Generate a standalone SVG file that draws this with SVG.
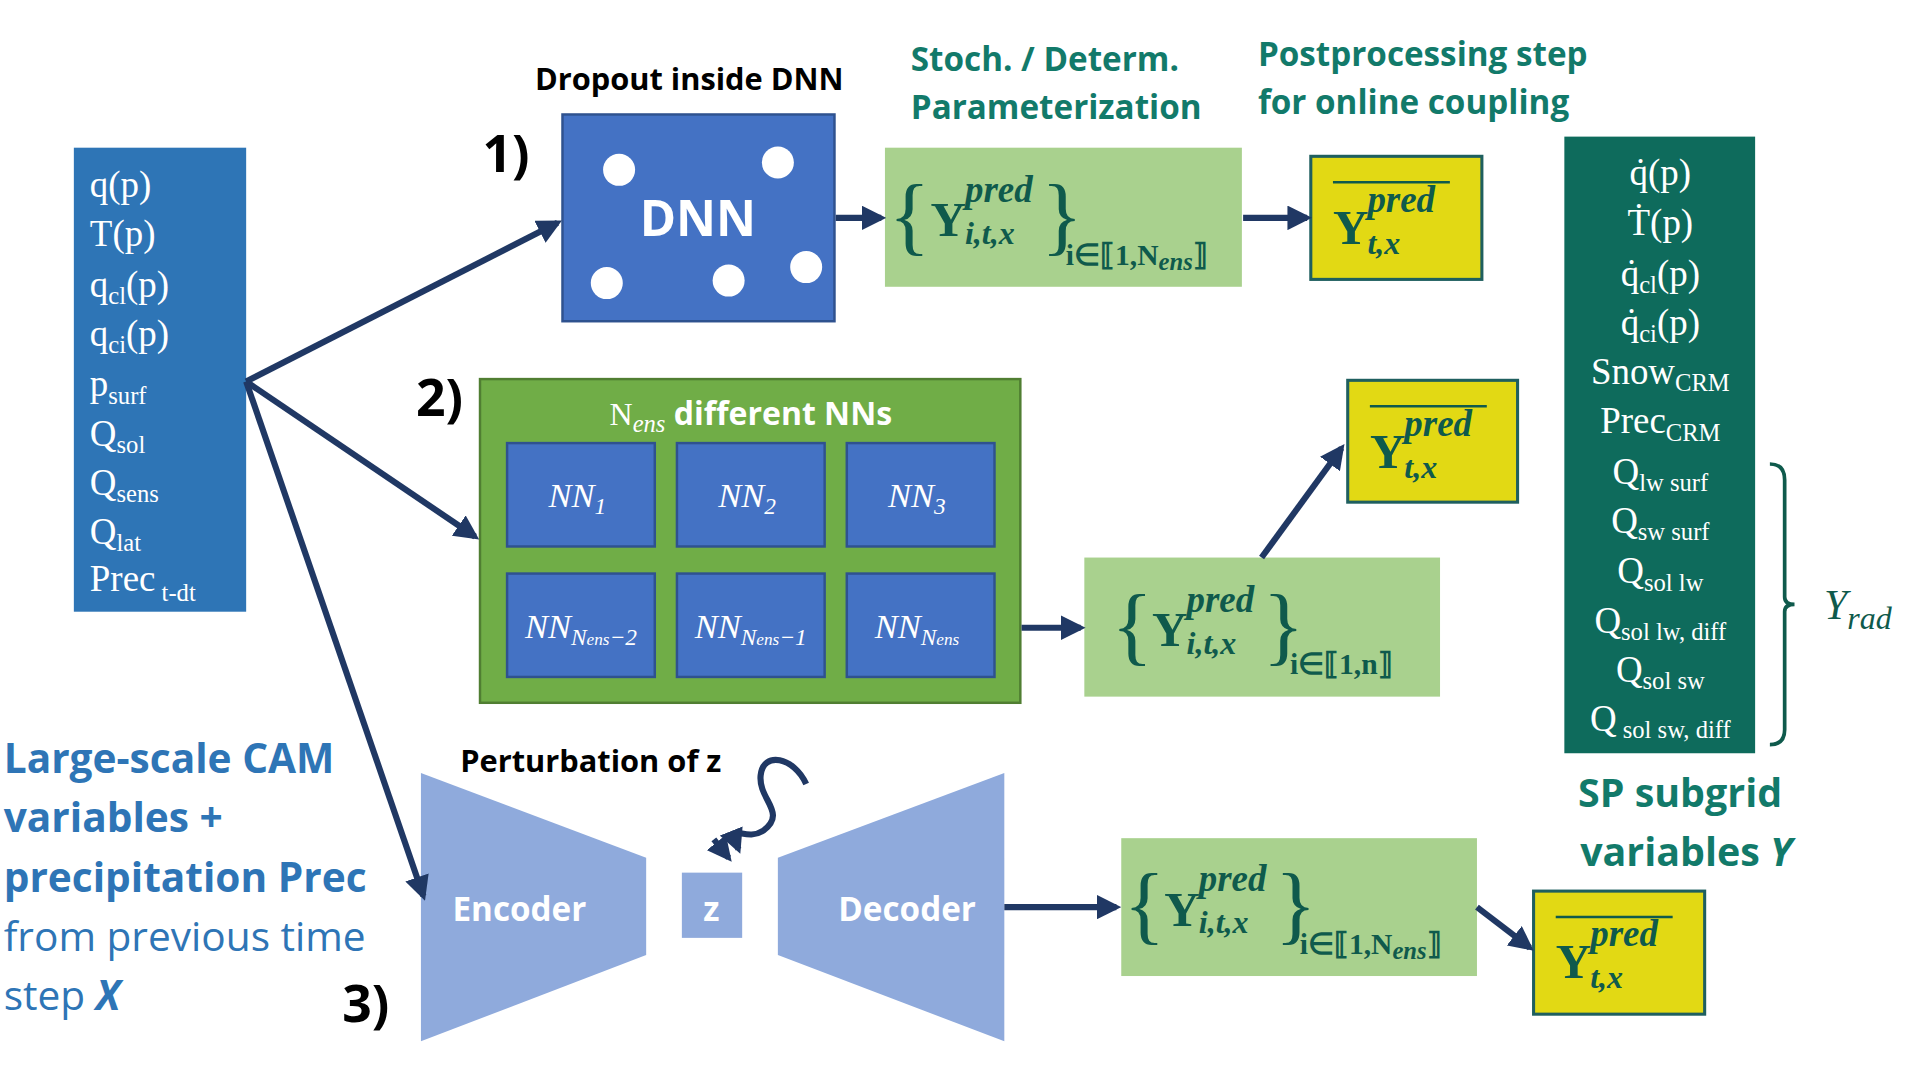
<svg xmlns="http://www.w3.org/2000/svg" width="1920" height="1080" viewBox="0 0 1920 1080">
<defs>
<marker id="ah" viewBox="0 0 10 10" refX="8" refY="5" markerWidth="4" markerHeight="4" orient="auto"><path d="M0,0L10,5L0,10z" fill="#203864"/></marker>
<style>
.sans{font-family:"Open Sans","Liberation Sans",sans-serif}
.ser{font-family:"Liberation Serif",serif}
.teal{fill:#127A6A}
.w{fill:#fff}
.blue{fill:#4472C4;stroke:#2F528F;stroke-width:2}
.lg{fill:#A9D18E}
.yl{fill:#E2D914;stroke:#1F5F5F;stroke-width:2.5}
.con{stroke:#203864;stroke-width:5;fill:none;marker-end:url(#ah)}
.f{font-family:"Liberation Serif",serif;fill:#0F5A4C}
.Y{font-size:40px;font-weight:bold}
.p{font-size:30px;font-weight:bold;font-style:italic}
.s{font-size:26px;font-weight:bold;font-style:italic}
.br{font-size:70px}
</style>
</defs>
<rect width="1920" height="1080" fill="#fff"/>
<g transform="scale(1.2308)">
<g id="inputs">
<rect x="60" y="120" width="140" height="377" fill="#2E75B6"/>
<g class="ser w" font-size="30">
<text x="73" y="160">q(p)</text>
<text x="73" y="200">T(p)</text>
<text x="73" y="241">q<tspan font-size="20" dy="6">cl</tspan><tspan dy="-6">(p)</tspan></text>
<text x="73" y="281">q<tspan font-size="20" dy="6">ci</tspan><tspan dy="-6">(p)</tspan></text>
<text x="73" y="322">p<tspan font-size="20" dy="6">surf</tspan></text>
<text x="73" y="362">Q<tspan font-size="20" dy="6">sol</tspan></text>
<text x="73" y="402">Q<tspan font-size="20" dy="6">sens</tspan></text>
<text x="73" y="442">Q<tspan font-size="20" dy="6">lat</tspan></text>
<text x="73" y="480">Prec<tspan font-size="20" dy="8"> t-dt</tspan></text>
</g>
</g>
<g id="leftlabel" class="sans" font-size="33" fill="#2E75B6">
<text x="3" y="628" font-weight="bold">Large-scale CAM</text>
<text x="3" y="676" font-weight="bold">variables +</text>
<text x="3" y="725" font-weight="bold">precipitation Prec</text>
<text x="3" y="773">from previous time</text>
<text x="3" y="821">step <tspan font-weight="bold" font-style="italic">X</tspan></text>
</g>
<g id="dnn">
<text x="560" y="73" class="sans" font-size="25" font-weight="bold" text-anchor="middle">Dropout inside DNN</text>
<text x="392" y="140" class="sans" font-size="42" font-weight="bold">1)</text>
<rect x="457" y="93" width="221" height="168" class="blue"/>
<g class="w"><circle cx="503" cy="138" r="13"/><circle cx="632" cy="132" r="13"/><circle cx="493" cy="230" r="13"/><circle cx="592" cy="228" r="13"/><circle cx="655" cy="217" r="13"/></g>
<text x="567" y="192" class="sans w" font-size="40" font-weight="bold" text-anchor="middle">DNN</text>
</g>
<g id="head" class="sans teal" font-size="27" font-weight="bold">
<text x="740" y="58">Stoch. / Determ.</text>
<text x="740" y="97">Parameterization</text>
<text x="1022" y="54">Postprocessing step</text>
<text x="1022" y="93">for online coupling</text>
</g>
<g id="ens1" class="f">
<rect x="719" y="120" width="290" height="113" class="lg"/>
<text x="722" y="198" class="br">{</text>
<text x="756" y="192" class="Y">Y</text>
<text x="784" y="164" class="p">pred</text>
<text x="784" y="198" class="s">i,t,x</text>
<text x="846" y="198" class="br">}</text>
<text x="866" y="215" font-size="24" font-weight="bold">i∈⟦1,N<tspan font-style="italic" font-size="20" dy="4">ens</tspan><tspan dy="-4">⟧</tspan></text>
</g>
<g id="y1" class="f">
<rect x="1065" y="127" width="139" height="100" class="yl"/>
<line x1="1083" y1="148" x2="1178" y2="148" stroke="#0F5A4C" stroke-width="2"/>
<text x="1083" y="198" class="Y">Y</text>
<text x="1111" y="172" class="p">pred</text>
<text x="1111" y="206" class="s">t,x</text>
</g>
<g id="ens2box">
<text x="338" y="338" class="sans" font-size="42" font-weight="bold">2)</text>
<rect x="390" y="308" width="439" height="263" fill="#70AD47" stroke="#507E32" stroke-width="2"/>
<text x="610" y="345" class="sans w" font-size="26" font-weight="bold" text-anchor="middle"><tspan class="ser" font-weight="normal">N</tspan><tspan class="ser" font-style="italic" font-weight="normal" font-size="20" dy="6">ens</tspan><tspan dy="-6"> different NNs</tspan></text>
<rect x="412" y="360" width="120" height="84" class="blue"/>
<rect x="550" y="360" width="120" height="84" class="blue"/>
<rect x="688" y="360" width="120" height="84" class="blue"/>
<rect x="412" y="466" width="120" height="84" class="blue"/>
<rect x="550" y="466" width="120" height="84" class="blue"/>
<rect x="688" y="466" width="120" height="84" class="blue"/>
<g class="ser w" font-style="italic" font-size="28" text-anchor="middle">
<text x="469" y="412">NN<tspan font-size="19" dy="6">1</tspan></text>
<text x="607" y="412">NN<tspan font-size="19" dy="6">2</tspan></text>
<text x="745" y="412">NN<tspan font-size="19" dy="6">3</tspan></text>
<text x="472" y="518">NN<tspan font-size="19" dy="6">N<tspan font-size="14">ens</tspan>−2</tspan></text>
<text x="610" y="518">NN<tspan font-size="19" dy="6">N<tspan font-size="14">ens</tspan>−1</tspan></text>
<text x="745" y="518">NN<tspan font-size="19" dy="6">N<tspan font-size="14">ens</tspan></tspan></text>
</g>
</g>
<g id="ens2" class="f">
<rect x="881" y="453" width="289" height="113" class="lg"/>
<text x="903" y="531" class="br">{</text>
<text x="936" y="525" class="Y">Y</text>
<text x="964" y="497" class="p">pred</text>
<text x="964" y="531" class="s">i,t,x</text>
<text x="1026" y="531" class="br">}</text>
<text x="1048" y="548" font-size="24" font-weight="bold">i∈⟦1,n⟧</text>
</g>
<g id="y2" class="f">
<rect x="1095" y="309" width="138" height="99" class="yl"/>
<line x1="1113" y1="330" x2="1208" y2="330" stroke="#0F5A4C" stroke-width="2"/>
<text x="1113" y="380" class="Y">Y</text>
<text x="1141" y="354" class="p">pred</text>
<text x="1141" y="388" class="s">t,x</text>
</g>
<g id="vae">
<text x="480" y="627" class="sans" font-size="25" font-weight="bold" text-anchor="middle">Perturbation of z</text>
<text x="278" y="830" class="sans" font-size="42" font-weight="bold">3)</text>
<polygon points="342,628 525,697 525,776 342,846" fill="#8FAADC"/>
<polygon points="632,697 816,628 816,846 632,776" fill="#8FAADC"/>
<rect x="554" y="709" width="49" height="53" fill="#8FAADC"/>
<g class="sans w" font-size="27" font-weight="bold" text-anchor="middle">
<text x="422" y="748">Encoder</text>
<text x="578" y="748">z</text>
<text x="737" y="748">Decoder</text>
</g>
</g>
<g id="ens3" class="f">
<rect x="911" y="681" width="289" height="112" class="lg"/>
<text x="913" y="758" class="br">{</text>
<text x="946" y="752" class="Y">Y</text>
<text x="974" y="724" class="p">pred</text>
<text x="974" y="758" class="s">i,t,x</text>
<text x="1036" y="758" class="br">}</text>
<text x="1056" y="775" font-size="24" font-weight="bold">i∈⟦1,N<tspan font-style="italic" font-size="20" dy="4">ens</tspan><tspan dy="-4">⟧</tspan></text>
</g>
<g id="y3" class="f">
<rect x="1246" y="724" width="139" height="100" class="yl"/>
<line x1="1264" y1="745" x2="1359" y2="745" stroke="#0F5A4C" stroke-width="2"/>
<text x="1264" y="795" class="Y">Y</text>
<text x="1292" y="769" class="p">pred</text>
<text x="1292" y="803" class="s">t,x</text>
</g>
<g id="outputs">
<rect x="1271" y="111" width="155" height="501" fill="#0E6B5C"/>
<g class="ser w" font-size="30" text-anchor="middle">
<text x="1349" y="150">q̇(p)</text>
<text x="1349" y="191">Ṫ(p)</text>
<text x="1349" y="232">q̇<tspan font-size="20" dy="6">cl</tspan><tspan dy="-6">(p)</tspan></text>
<text x="1349" y="272">q̇<tspan font-size="20" dy="6">ci</tspan><tspan dy="-6">(p)</tspan></text>
<text x="1349" y="312">Snow<tspan font-size="20" dy="6">CRM</tspan></text>
<text x="1349" y="352">Prec<tspan font-size="20" dy="6">CRM</tspan></text>
<text x="1349" y="393">Q<tspan font-size="20" dy="6">lw surf</tspan></text>
<text x="1349" y="433">Q<tspan font-size="20" dy="6">sw surf</tspan></text>
<text x="1349" y="474">Q<tspan font-size="20" dy="6">sol lw</tspan></text>
<text x="1349" y="514">Q<tspan font-size="20" dy="6">sol lw, diff</tspan></text>
<text x="1349" y="554">Q<tspan font-size="20" dy="6">sol sw</tspan></text>
<text x="1349" y="594">Q<tspan font-size="20" dy="6"> sol sw, diff</tspan></text>
</g>
<path d="M1438,377 Q1450,377 1450,390 L1450,485 Q1450,491 1458,491 Q1450,491 1450,497 L1450,593 Q1450,605 1438,605" fill="none" stroke="#0F5A4C" stroke-width="3"/>
<text x="1482" y="503" class="f" font-size="34" font-style="italic">Y<tspan font-size="26" dy="8">rad</tspan></text>
<g class="sans teal" font-size="32" font-weight="bold" text-anchor="middle">
<text x="1365" y="656">SP subgrid</text>
<text x="1370" y="704">variables <tspan font-style="italic">Y</tspan></text>
</g>
</g>
<g id="connectors">
<path class="con" d="M200,310 L453,181"/>
<path class="con" d="M200,310 L386,436"/>
<path class="con" d="M200,310 L344,728"/>
<path class="con" d="M679,177 L716,177"/>
<path class="con" d="M1010,177 L1062,177"/>
<path class="con" d="M830,510 L878,510"/>
<path class="con" d="M1025,453 L1090,364"/>
<path class="con" d="M816,737 L907,737"/>
<path class="con" d="M1200,737 L1243,770"/>
<path class="con" stroke-width="4" d="M655,637 C645,615 620,610 618,630 C616,650 640,660 620,675 C605,685 590,665 600,690"/>
<path class="con" stroke-width="4" d="M580,682 L592,697"/>
</g>
</g>
</svg>
